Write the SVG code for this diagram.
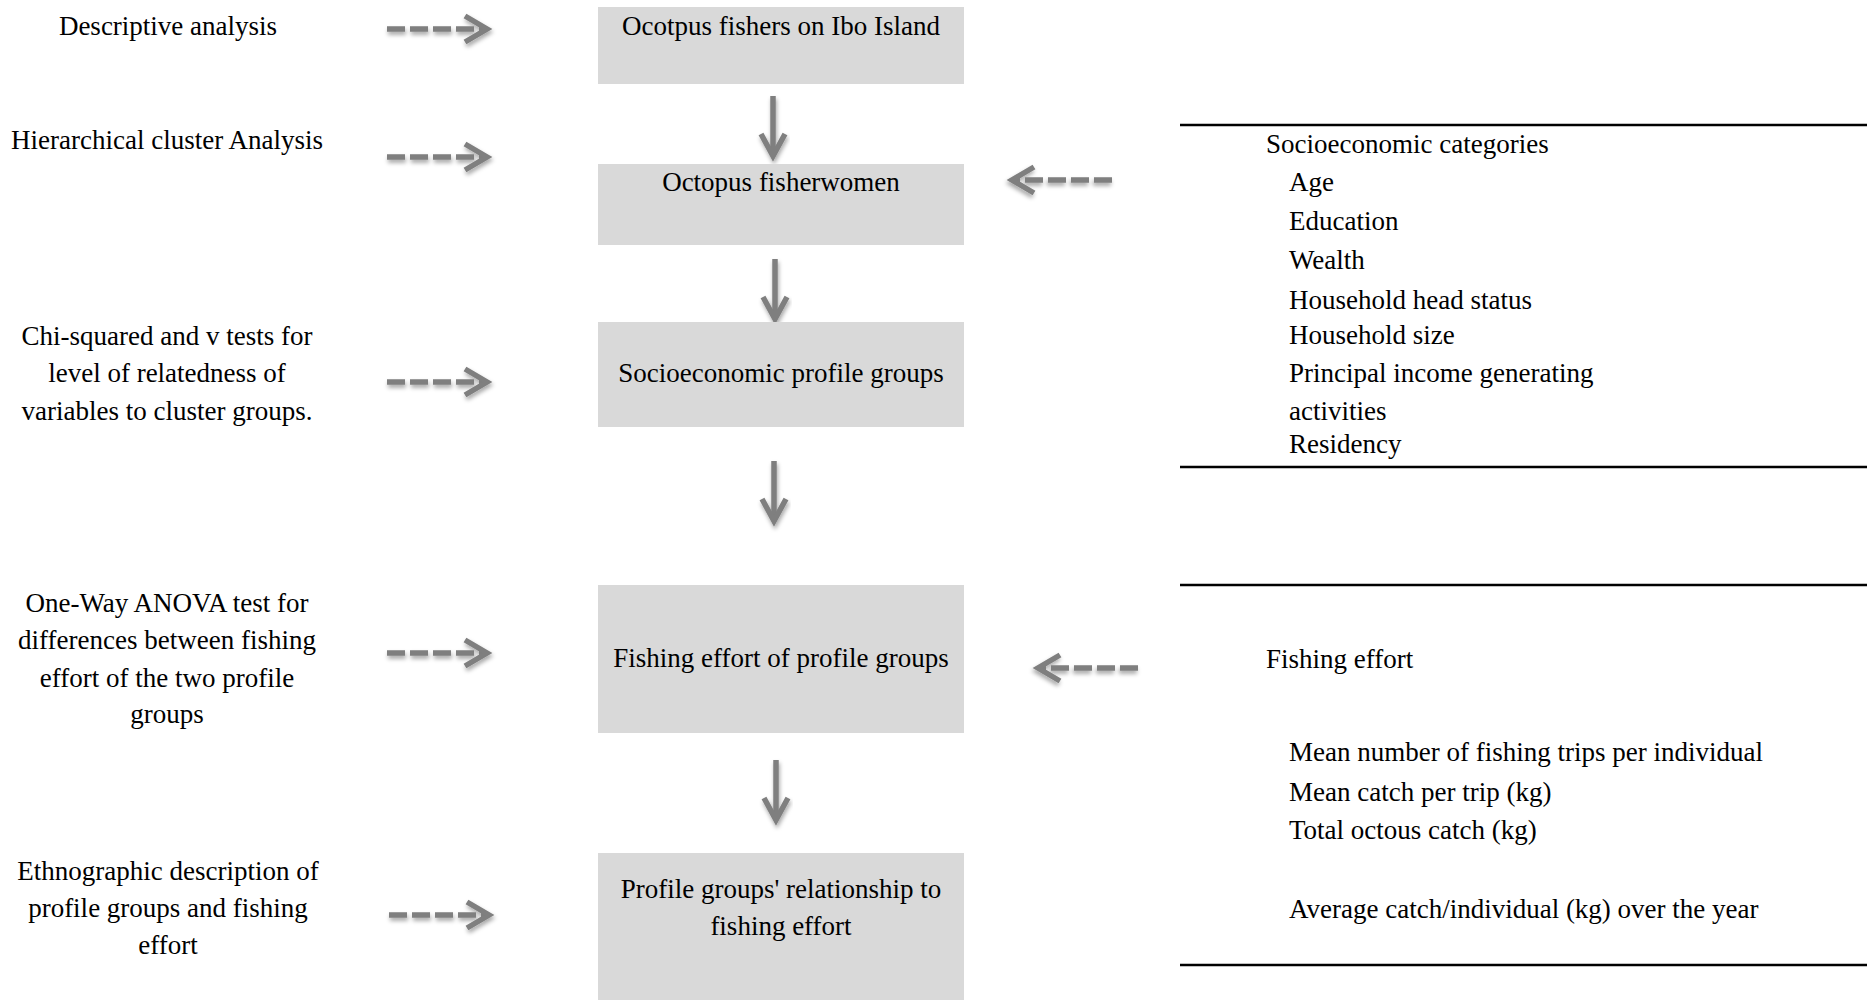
<svg xmlns="http://www.w3.org/2000/svg" xmlns:xlink="http://www.w3.org/1999/xlink" width="1867" height="1000" viewBox="0 0 1867 1000">
<style>
text{font-family:"Liberation Serif","Times New Roman",serif;font-size:27px;fill:#000}
.c{text-anchor:middle}
.box{fill:#d9d9d9}
.rule{stroke:#000;stroke-width:2.5}
.arr{stroke:#7f7f7f;fill:none;stroke-width:5.5}
.dash{stroke-dasharray:18 5}
</style>
<defs>
<filter id="sh" x="-20%" y="-50%" width="140%" height="200%">
<feDropShadow dx="1" dy="3" stdDeviation="2" flood-color="#000" flood-opacity="0.35"/>
</filter>
<g id="dashR" filter="url(#sh)">
<line class="arr dash" x1="0" y1="0" x2="98" y2="0"/>
<polyline class="arr" points="78,-13 100,0 78,13" stroke-width="6"/>
</g>
<g id="down" filter="url(#sh)">
<line class="arr" x1="0" y1="0" x2="0" y2="58" stroke-width="5"/>
<polyline class="arr" points="-12,38 0,60 12,38" stroke-width="5"/>
</g>
</defs>

<g id="connectors">
<use xlink:href="#dashR" x="387" y="29"/>
<use xlink:href="#dashR" x="387" y="157"/>
<use xlink:href="#dashR" x="387" y="382"/>
<use xlink:href="#dashR" x="387" y="653"/>
<use xlink:href="#dashR" x="389" y="915"/>
<use xlink:href="#dashR" transform="translate(1112,180) scale(-1,1)"/>
<use xlink:href="#dashR" transform="translate(1138,668) scale(-1,1)"/>
<use xlink:href="#down" x="773" y="96"/>
<use xlink:href="#down" x="775" y="259"/>
<use xlink:href="#down" x="774" y="461"/>
<use xlink:href="#down" x="776" y="760"/>
</g>

<g id="n1"><rect class="box" x="598" y="7" width="366" height="77"/><text class="c" x="781" y="35">Ocotpus fishers on Ibo Island</text></g>
<g id="n2"><rect class="box" x="598" y="164" width="366" height="81"/><text class="c" x="781" y="191">Octopus fisherwomen</text></g>
<g id="n3"><rect class="box" x="598" y="322" width="366" height="105"/><text class="c" x="781" y="382">Socioeconomic profile groups</text></g>
<g id="n4"><rect class="box" x="598" y="585" width="366" height="148"/><text class="c" x="781" y="667">Fishing effort of profile groups</text></g>
<g id="n5"><rect class="box" x="598" y="853" width="366" height="147"/><text class="c" x="781" y="898">Profile groups' relationship to</text><text class="c" x="781" y="935">fishing effort</text></g>

<g id="m1"><text class="c" x="168" y="35">Descriptive analysis</text></g>
<g id="m2"><text class="c" x="167" y="149">Hierarchical cluster Analysis</text></g>
<g id="m3"><text class="c" x="167" y="345">Chi-squared and v tests for</text><text class="c" x="167" y="382">level of relatedness of</text><text class="c" x="167" y="420">variables to cluster groups.</text></g>
<g id="m4"><text class="c" x="167" y="612">One-Way ANOVA test for</text><text class="c" x="167" y="649">differences between fishing</text><text class="c" x="167" y="687">effort of the two profile</text><text class="c" x="167" y="723">groups</text></g>
<g id="m5"><text class="c" x="168" y="880">Ethnographic description of</text><text class="c" x="168" y="917">profile groups and fishing</text><text class="c" x="168" y="954">effort</text></g>

<g id="socio">
<line class="rule" x1="1180" y1="125" x2="1867" y2="125"/>
<line class="rule" x1="1180" y1="467" x2="1867" y2="467"/>
<text x="1266" y="153">Socioeconomic categories</text>
<text x="1289" y="191">Age</text>
<text x="1289" y="230">Education</text>
<text x="1289" y="269">Wealth</text>
<text x="1289" y="309">Household head status</text>
<text x="1289" y="344">Household size</text>
<text x="1289" y="382">Principal income generating</text>
<text x="1289" y="420">activities</text>
<text x="1289" y="453">Residency</text>
</g>

<g id="effort">
<line class="rule" x1="1180" y1="585" x2="1867" y2="585"/>
<line class="rule" x1="1180" y1="965" x2="1867" y2="965"/>
<text x="1266" y="668">Fishing effort</text>
<text x="1289" y="761">Mean number of fishing trips per individual</text>
<text x="1289" y="801">Mean catch per trip (kg)</text>
<text x="1289" y="839">Total octous catch (kg)</text>
<text x="1289" y="918">Average catch/individual (kg) over the year</text>
</g>
</svg>
